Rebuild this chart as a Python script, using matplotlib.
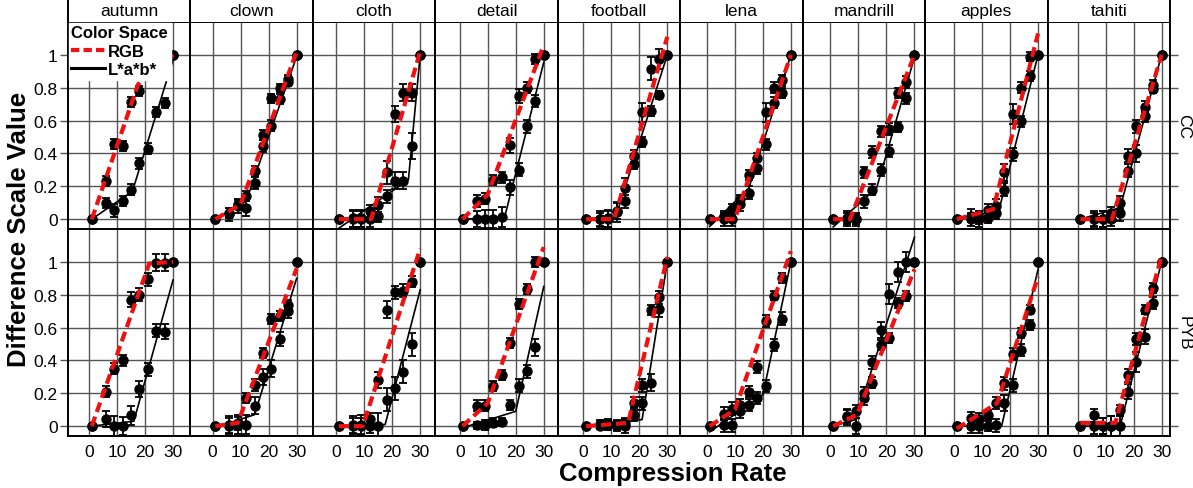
import matplotlib
matplotlib.use("Agg")
import matplotlib.pyplot as plt
from matplotlib.lines import Line2D
import numpy as np

plt.rcParams['font.family'] = ['Liberation Sans', 'DejaVu Sans']

images = ["autumn", "clown", "cloth", "detail", "football", "lena", "mandrill", "apples", "tahiti"]
row_names = ["CC", "PYB"]
rates = [1, 6, 9, 12, 15, 18, 21, 24, 27, 30]
x_ticks = [0, 10, 20, 30]
y_ticks = [0, 0.2, 0.4, 0.6, 0.8, 1.0]
y_tick_labels = ["0", "0.2", "0.4", "0.6", "0.8", "1"]

# ---- CC row: measured scale values (RGB, L*a*b*) ----
cc_rgb = [
    [0, 0.23, 0.46, 0.445, 0.715, 0.78, 0.89, 0.925, 0.955, 1.0],
    [0, 0.04, 0.095, 0.14, 0.295, 0.51, 0.735, 0.80, 0.855, 1.0],
    [0, 0.005, 0.005, 0.047, 0.087, 0.285, 0.64, 0.77, 0.77, 1.0],
    [0, 0.11, 0.125, 0.24, 0.255, 0.45, 0.75, 0.80, 0.975, 1.0],
    [0, 0.0, 0.005, 0.045, 0.19, 0.385, 0.65, 0.915, 0.975, 1.0],
    [0, 0.02, 0.06, 0.12, 0.27, 0.375, 0.65, 0.80, 0.845, 1.0],
    [0, 0.01, 0.0, 0.285, 0.41, 0.535, 0.55, 0.77, 0.835, 1.0],
    [0, 0.02, 0.01, 0.057, 0.08, 0.285, 0.64, 0.80, 0.99, 1.0],
    [0, 0.0, 0.0, 0.035, 0.10, 0.385, 0.565, 0.685, 0.815, 1.0],
]
cc_lab = [
    [0, 0.10, 0.055, 0.11, 0.18, 0.34, 0.43, 0.65, 0.705, 1.0],
    [0, 0.03, 0.077, 0.067, 0.22, 0.445, 0.57, 0.73, 0.835, 1.0],
    [0, 0.0, 0.0, 0.0, 0.02, 0.14, 0.235, 0.235, 0.445, 1.0],
    [0, 0.0, 0.0, 0.0, 0.015, 0.195, 0.30, 0.565, 0.72, 1.0],
    [0, 0.0, 0.0, 0.05, 0.11, 0.335, 0.47, 0.66, 0.755, 1.0],
    [0, 0.0, 0.0, 0.09, 0.16, 0.31, 0.455, 0.71, 0.77, 1.0],
    [0, 0.0, 0.0, 0.11, 0.18, 0.30, 0.415, 0.56, 0.735, 1.0],
    [0, 0.0, 0.0, 0.01, 0.04, 0.18, 0.395, 0.595, 0.87, 1.0],
    [0, 0.0, 0.0, 0.0, 0.04, 0.295, 0.40, 0.625, 0.795, 1.0],
]
cc_rgb_err = [
    [0, .03, .03, .03, .03, .03, .03, .035, .035, 0],
    [0, .03, .03, .03, .03, .03, .025, .025, .02, 0],
    [0, .05, .05, .04, .045, .07, .05, .05, .05, 0],
    [0, .035, .035, .03, .035, .045, .04, .035, .03, 0],
    [0, .05, .05, .06, .06, .035, .06, .07, .06, 0],
    [0, .03, .03, .03, .03, .03, .06, .035, .035, 0],
    [0, .04, .04, .035, .035, .035, .035, .03, .035, 0],
    [0, .04, .04, .035, .04, .05, .06, .035, .03, 0],
    [0, .05, .05, .04, .04, .04, .04, .035, .035, 0],
]
cc_lab_err = [
    [0, .03, .04, .03, .035, .035, .035, .03, .03, 0],
    [0, .04, .04, .045, .035, .035, .035, .03, .025, 0],
    [0, .05, .05, .05, .04, .04, .05, .05, .08, 0],
    [0, .05, .055, .055, .06, .045, .04, .04, .035, 0],
    [0, .04, .05, .05, .04, .03, .03, .03, .025, 0],
    [0, .04, .04, .04, .04, .035, .035, .035, .03, 0],
    [0, .04, .03, .04, .035, .035, .035, .03, .035, 0],
    [0, .04, .045, .035, .04, .04, .04, .035, .03, 0],
    [0, .04, .05, .04, .05, .04, .05, .035, .03, 0],
]

# ---- PYB row ----
pyb_rgb = [
    [0, 0.21, 0.35, 0.40, 0.77, 0.80, 0.895, 0.995, 0.995, 1.0],
    [0, 0.01, 0.02, 0.17, 0.25, 0.445, 0.65, 0.67, 0.74, 1.0],
    [0, 0.01, 0.0, 0.043, 0.28, 0.71, 0.815, 0.825, 0.88, 1.0],
    [0, 0.125, 0.125, 0.245, 0.31, 0.505, 0.745, 0.835, 0.998, 1.0],
    [0, 0.015, 0.015, 0.01, 0.022, 0.14, 0.25, 0.705, 0.785, 1.0],
    [0, 0.075, 0.105, 0.13, 0.21, 0.36, 0.64, 0.795, 0.90, 1.0],
    [0, 0.06, 0.09, 0.17, 0.265, 0.495, 0.535, 0.75, 0.79, 1.0],
    [0, 0.05, 0.043, 0.067, 0.14, 0.26, 0.44, 0.565, 0.71, 1.0],
    [0, 0.065, 0.0, 0.0, 0.10, 0.31, 0.53, 0.71, 0.84, 1.0],
]
pyb_lab = [
    [0, 0.045, 0.0, 0.0, 0.065, 0.225, 0.345, 0.58, 0.575, 1.0],
    [0, 0.0, 0.005, 0.01, 0.125, 0.30, 0.35, 0.53, 0.70, 1.0],
    [0, 0.0, 0.005, 0.0, 0.0, 0.16, 0.23, 0.33, 0.50, 1.0],
    [0, 0.005, 0.005, 0.022, 0.026, 0.13, 0.245, 0.335, 0.48, 1.0],
    [0, 0.0, 0.005, 0.0, 0.0, 0.07, 0.14, 0.265, 0.715, 1.0],
    [0, 0.005, 0.005, 0.09, 0.13, 0.17, 0.245, 0.495, 0.655, 1.0],
    [0, 0.055, 0.0, 0.20, 0.39, 0.585, 0.805, 0.94, 1.0, 1.0],
    [0, 0.0, 0.0, 0.0, 0.005, 0.14, 0.25, 0.465, 0.615, 1.0],
    [0, 0.0, 0.0, 0.0, 0.0, 0.21, 0.39, 0.545, 0.75, 1.0],
]
pyb_rgb_err = [
    [0, .035, .035, .035, .045, .04, .04, .05, .05, 0],
    [0, .05, .045, .03, .035, .03, .03, .03, .03, 0],
    [0, .05, .05, .04, .05, .05, .04, .04, .035, 0],
    [0, .035, .035, .03, .03, .03, .03, .03, .03, 0],
    [0, .02, .03, .03, .03, .04, .04, .03, .04, 0],
    [0, .04, .04, .035, .035, .035, .035, .03, .03, 0],
    [0, .04, .04, .04, .035, .03, .03, .03, .03, 0],
    [0, .035, .035, .03, .035, .04, .035, .03, .03, 0],
    [0, .04, .05, .06, .03, .04, .035, .03, .03, 0],
]
pyb_lab_err = [
    [0, .05, .06, .055, .06, .05, .04, .04, .045, 0],
    [0, .05, .05, .055, .05, .05, .05, .045, .04, 0],
    [0, .05, .06, .04, .08, .07, .07, .07, .07, 0],
    [0, .02, .03, .025, .025, .03, .04, .04, .05, 0],
    [0, .02, .03, .03, .04, .04, .04, .05, .05, 0],
    [0, .04, .04, .04, .035, .035, .035, .035, .04, 0],
    [0, .05, .05, .04, .04, .05, .06, .06, .06, 0],
    [0, .04, .04, .03, .04, .05, .04, .035, .03, 0],
    [0, .05, .05, .06, .06, .045, .06, .045, .035, 0],
]

# ---- fitted piecewise-linear models: knots (rate, value) ----
cc_rgb_fit = [
    [(1, 0), (17.5, 0.82), (30, 1.0)],
    [(1, 0), (10, 0.09), (30, 1.02)],
    [(1, 0), (12.5, 0.0), (30, 1.02)],
    [(1, 0), (10, 0.15), (30, 1.06)],
    [(1, 0), (11, 0.0), (30, 1.11)],
    [(1, 0), (10, 0.0), (30, 1.0)],
    [(1, 0), (7, 0.0), (30, 1.0)],
    [(1, 0), (14, 0.06), (30, 1.13)],
    [(1, 0), (12.3, 0.0), (30, 1.0)],
]
cc_lab_fit = [
    [(1, 0), (15.5, 0.17), (30, 0.97)],
    [(1, 0), (12, 0.11), (30, 0.99)],
    [(1, -0.055), (25.8, 0.24), (30, 1.0)],
    [(1, 0), (16, 0.01), (30, 0.955)],
    [(1, 0), (11.5, 0.01), (30, 1.0)],
    [(1, -0.045), (15, 0.19), (30, 1.0)],
    [(1, -0.047), (16.5, 0.19), (30, 0.985)],
    [(1, 0), (16, 0.05), (30, 1.0)],
    [(1, 0), (15.2, 0.07), (30, 1.0)],
]
pyb_rgb_fit = [
    [(1, 0), (21.5, 0.99), (30, 1.0)],
    [(1, 0), (9, 0.02), (30, 0.96)],
    [(1, 0), (9.5, 0.0), (30, 1.08)],
    [(1, 0), (10, 0.14), (30, 1.09)],
    [(1, 0), (16, 0.02), (30, 1.03)],
    [(1, 0), (10, 0.1), (30, 1.065)],
    [(1, 0), (9.5, 0.07), (30, 0.955)],
    [(1, -0.015), (15.4, 0.14), (30, 0.91)],
    [(1, 0.02), (13.5, 0.02), (30, 1.035)],
]
pyb_lab_fit = [
    [(1, 0), (16, 0.03), (30, 0.89)],
    [(1, -0.01), (15, 0.07), (30, 0.90)],
    [(1, 0.0), (17.5, 0.01), (30, 0.83)],
    [(1, -0.01), (20, 0.09), (30, 0.85)],
    [(1, 0), (21, 0.04), (30, 1.0)],
    [(1, -0.035), (20, 0.19), (30, 1.0)],
    [(1, 0), (9, 0.04), (30, 1.15)],
    [(1, 0), (17, 0.0), (30, 0.955)],
    [(1, 0), (15.2, 0.0), (30, 1.0)],
]

rows = [
    (cc_rgb, cc_rgb_err, cc_lab, cc_lab_err, cc_rgb_fit, cc_lab_fit),
    (pyb_rgb, pyb_rgb_err, pyb_lab, pyb_lab_err, pyb_rgb_fit, pyb_lab_fit),
]

W, H = 1193, 489
fig = plt.figure(figsize=(W / 100, H / 100), dpi=100)

px_left, px_right = 68, 1170
px_top, px_mid, px_bot = 23, 230, 437
pw = (px_right - px_left) / 9
RED = "#f01010"
GRID = "#555555"

def fx(p):
    return p / W

def fy(p):
    return 1 - p / H

row_bounds = [(px_top, px_mid), (px_mid, px_bot)]
axes = {}
for r in range(2):
    t, b = row_bounds[r]
    for c in range(9):
        ax = fig.add_axes([fx(px_left + c * pw), fy(b), pw / W, (b - t) / H])
        axes[(r, c)] = ax
        xl = -7.5 - 0.4 * c
        ax.set_xlim(xl, xl + 43.7)
        ax.set_ylim(-0.06, 1.2)
        for xv in x_ticks:
            ax.axvline(xv, color=GRID, lw=1.0, zorder=1)
        for yv in y_ticks:
            ax.axhline(yv, color=GRID, lw=1.0, zorder=1)
        for s in ax.spines.values():
            s.set_linewidth(1.4)
            s.set_color("black")
        rgb, rgb_e, lab, lab_e, rgb_fit, lab_fit = rows[r]
        for vals, errs in ((rgb[c], rgb_e[c]), (lab[c], lab_e[c])):
            xs = np.array(rates, dtype=float)
            v = np.array(vals)
            e = np.array(errs)
            m = e > 0
            ax.errorbar(xs[m], v[m], yerr=e[m], fmt="none", ecolor="black",
                        elinewidth=1.3, capsize=3, capthick=1.3, zorder=3)
            ax.plot(xs, v, "o", color="black", ms=6.5, zorder=4)
        kx, ky = zip(*lab_fit[c])
        ax.plot(kx, ky, color="black", lw=1.2, zorder=5)
        kx, ky = zip(*rgb_fit[c])
        ax.plot(kx, ky, color=RED, lw=3, dashes=(2.4, 1.2), zorder=6)

        ax.set_xticks(x_ticks)
        ax.set_yticks(y_ticks)
        if r == 1:
            ax.set_xticklabels([str(v) for v in x_ticks], fontsize=12.5)
            ax.tick_params(axis="x", length=0, pad=6)
        else:
            ax.tick_params(axis="x", length=0, labelbottom=False)
        if c == 0:
            ax.set_yticklabels(y_tick_labels, fontsize=12.5)
            ax.tick_params(axis="y", length=6, width=1, color=GRID, pad=1.5, direction="out")
        elif c == 8:
            ax.tick_params(axis="y", which="both", left=False, right=True, labelleft=False,
                           length=6, width=1, color=GRID, direction="out")
        else:
            ax.tick_params(axis="y", length=0, labelleft=False)

# top strips
for c in range(9):
    sax = fig.add_axes([fx(px_left + c * pw), fy(px_top), pw / W, px_top / H])
    sax.set_xticks([])
    sax.set_yticks([])
    sax.spines["top"].set_visible(False)
    sax.spines["bottom"].set_visible(False)
    for k in ("left", "right"):
        sax.spines[k].set_linewidth(1.4)
    sax.text(0.5, 0.5, images[c], ha="center", va="center", fontsize=12.5,
             transform=sax.transAxes)

# right strips
for r in range(2):
    t, b = row_bounds[r]
    fig.text(fx(1184), fy((t + b) / 2), row_names[r], rotation=270, ha="center",
             va="center", fontsize=12.5)

# axis labels
fig.text(fx(19), fy(229), "Difference Scale Value", rotation=90,
         ha="center", va="center", fontsize=18.5, fontweight="bold")
fig.text(fx(673), fy(474), "Compression Rate", ha="center",
         va="center", fontsize=18.5, fontweight="bold")

# legend
handles = [Line2D([], [], color=RED, lw=3, dashes=(2.0, 1.0)),
           Line2D([], [], color="black", lw=2.2)]
leg = axes[(0, 0)].legend(handles, ["RGB", "L*a*b*"], title="Color Space", loc="upper left",
                          bbox_to_anchor=(0.0, 1.0), borderaxespad=0.05, frameon=True,
                          fancybox=False, framealpha=1, edgecolor="white",
                          prop={"weight": "bold", "size": 12}, handlelength=2.0,
                          handletextpad=0.2, labelspacing=0.2, borderpad=0.15,
                          alignment="left",
                          title_fontproperties={"weight": "bold", "size": 12})
leg.set_zorder(10)

fig.savefig("out.png", dpi=100)
